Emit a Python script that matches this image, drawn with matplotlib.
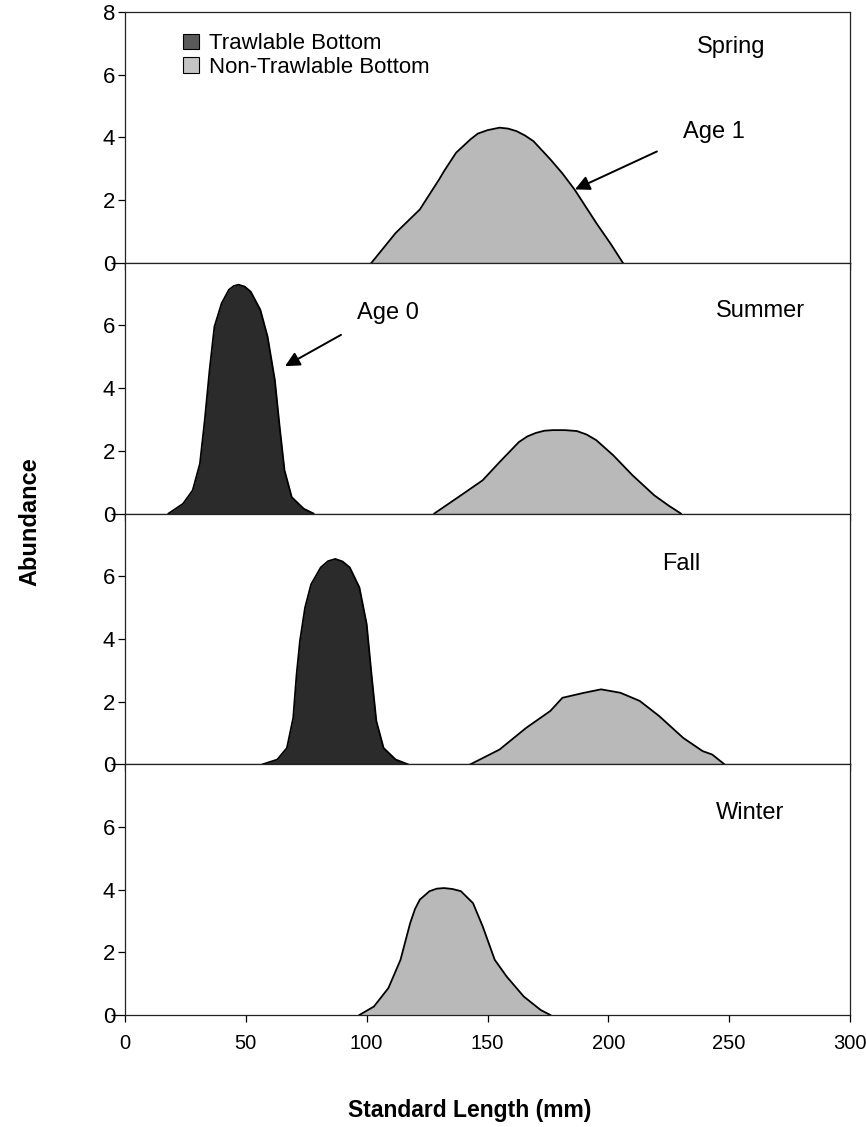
import matplotlib
matplotlib.use('Agg')
import matplotlib.pyplot as plt
from matplotlib.patches import Patch

plt.rcParams['font.family'] = ['Liberation Sans', 'DejaVu Sans']

# values (standard length mm, abundance)
seasons = ['Spring', 'Summer', 'Fall', 'Winter']

spring_nt_x = [102, 112, 122, 130, 132, 137, 143, 146, 150, 155, 158.5, 162, 165.5, 169, 176,
               181, 186, 195, 201, 206]
spring_nt_y = [0, 0.95, 1.7, 2.66, 2.92, 3.51, 3.94, 4.12, 4.23, 4.31, 4.28, 4.2, 4.06, 3.88,
               3.3, 2.85, 2.34, 1.27, 0.6, 0]

summer_t_x = [18, 24, 28, 31, 33, 35, 37, 40, 43, 45, 47, 49.5, 52, 56, 59, 62, 64, 66, 69, 74,
              78]
summer_t_y = [0, 0.31, 0.74, 1.59, 2.98, 4.58, 5.96, 6.71, 7.14, 7.26, 7.3, 7.24, 7.08, 6.5,
              5.64, 4.26, 2.76, 1.38, 0.52, 0.15, 0]
summer_nt_x = [128, 139, 148, 155, 163, 166.5, 170, 173.5, 177, 182, 187, 191, 195, 202, 210,
               219, 225, 230]
summer_nt_y = [0, 0.58, 1.06, 1.64, 2.28, 2.46, 2.57, 2.64, 2.66, 2.66, 2.63, 2.52, 2.34, 1.86,
               1.22, 0.58, 0.25, 0]

fall_t_x = [57, 63, 67, 69.6, 71, 72.4, 74.5, 77, 81, 84, 87, 90, 93, 97, 100, 102, 104, 107,
            112, 117]
fall_t_y = [0, 0.15, 0.52, 1.48, 2.87, 3.94, 5.0, 5.74, 6.28, 6.48, 6.55, 6.47, 6.28, 5.64,
            4.47, 2.87, 1.38, 0.52, 0.15, 0]
fall_nt_x = [143, 155, 166, 176, 181, 190, 197, 205, 213, 221, 231, 239, 243, 248]
fall_nt_y = [0, 0.47, 1.16, 1.7, 2.12, 2.28, 2.39, 2.28, 2.02, 1.54, 0.84, 0.42, 0.31, 0]

winter_nt_x = [97, 103, 109, 114, 118, 120, 122, 126, 129, 132, 135.5, 139, 144, 148, 153, 158,
               165, 172, 176]
winter_nt_y = [0, 0.27, 0.86, 1.76, 2.93, 3.38, 3.68, 3.95, 4.03, 4.05, 4.02, 3.95, 3.57, 2.83,
               1.76, 1.22, 0.59, 0.16, 0]

trawl = [None, (summer_t_x, summer_t_y), (fall_t_x, fall_t_y), None]
nontrawl = [(spring_nt_x, spring_nt_y), (summer_nt_x, summer_nt_y),
            (fall_nt_x, fall_nt_y), (winter_nt_x, winter_nt_y)]

x_ticks = [0, 50, 100, 150, 200, 250, 300]
legend_labels = ['Trawlable Bottom', 'Non-Trawlable Bottom']

dark = '#2b2b2b'
light = '#b9b9b9'

fig = plt.figure(figsize=(8.66, 11.27), dpi=100)
left, width = 125 / 866, 725 / 866
panel_h = 250.75 / 1127
bottom0 = (1127 - 1015) / 1127

label_pos = [(236.7, 6.88), (244.6, 6.46), (222.2, 6.4), (244.6, 6.43)]

axs = []
for i, season in enumerate(seasons):
    b = bottom0 + (3 - i) * panel_h
    ax = fig.add_axes([left, b, width, panel_h])
    axs.append(ax)
    ax.set_xlim(0, 300)
    ax.set_ylim(0, 8)
    ax.set_xticks(x_ticks)
    if i == 0:
        ax.set_yticks([0, 2, 4, 6, 8])
    else:
        ax.set_yticks([0, 2, 4, 6])
    ax.tick_params(axis='both', direction='out', length=5, width=0.9,
                   labelsize=16, pad=2)
    if i < 3:
        ax.tick_params(axis='x', labelbottom=False)
    else:
        ax.tick_params(axis='x', pad=9, labelsize=14.5)
    ax.yaxis.get_major_ticks()[0].tick1line.set_markersize(10)
    for sp in ax.spines.values():
        sp.set_linewidth(0.9)
        sp.set_color('#222222')

    if trawl[i] is not None:
        tx, ty = trawl[i]
        ax.fill_between(tx, ty, 0, color=dark, lw=0, zorder=2)
        ax.plot(tx, ty, color='black', lw=1.3, zorder=3)
    nx, ny = nontrawl[i]
    ax.fill_between(nx, ny, 0, color=light, lw=0, zorder=2)
    ax.plot(nx, ny, color='black', lw=1.3, zorder=3)

    lx, ly = label_pos[i]
    ax.text(lx, ly, season, fontsize=17, va='center', ha='left')

# legend in the top panel
handles = [Patch(facecolor='#5a5a5a', edgecolor='black', lw=0.8),
           Patch(facecolor='#c4c4c4', edgecolor='black', lw=0.8)]
axs[0].legend(handles, legend_labels, loc='upper left', bbox_to_anchor=(0.08, 0.915),
              frameon=False, fontsize=16, handlelength=0.7, handleheight=0.7,
              handletextpad=0.45, labelspacing=0.12, borderpad=0, borderaxespad=0)

# age annotations
axs[0].annotate('', xy=(186.2, 2.34), xytext=(220.1, 3.55),
                arrowprops=dict(arrowstyle='-|>', color='black', lw=1.4,
                                mutation_scale=22, shrinkA=0, shrinkB=0))
axs[0].text(230.9, 4.16, 'Age 1', fontsize=17, va='center', ha='left')
axs[1].annotate('', xy=(66.2, 4.7), xytext=(89.4, 5.7),
                arrowprops=dict(arrowstyle='-|>', color='black', lw=1.4,
                                mutation_scale=22, shrinkA=0, shrinkB=0))
axs[1].text(96, 6.4, 'Age 0', fontsize=17, va='center', ha='left')

fig.text(30 / 866, 1 - 522 / 1127, 'Abundance', rotation=90, fontsize=17,
         fontweight='bold', ha='center', va='center')
fig.text(470 / 866, 1 - 1110 / 1127, 'Standard Length (mm)', fontsize=16.5,
         fontweight='bold', ha='center', va='center')

plt.savefig('out.png', dpi=100)
